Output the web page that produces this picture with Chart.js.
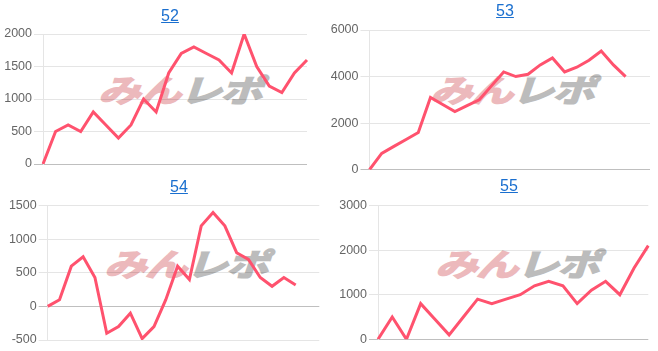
<!DOCTYPE html>
<html>
<head>
<meta charset="utf-8">
<script src="https://cdn.jsdelivr.net/npm/chart.js@4.4.1/dist/chart.umd.min.js"></script>
<style>
html, body { margin:0; padding:0; background:#fff; width:658px; height:351px; overflow:hidden; font-family: Arial, "Liberation Sans", sans-serif; }
.box { position:absolute; z-index:2; }
.ttl { position:absolute; z-index:3; font-size:16px; color:#1a6fcf; text-decoration:underline; transform:translate(-50%,-50%); white-space:nowrap; }
.wm { position:absolute; z-index:1; font: bold 31px/32px "Noto Sans CJK JP", sans-serif; white-space:nowrap;
      transform: scaleX(1.36) skewX(-14deg); transform-origin: left top; letter-spacing:-1px; }
.wm .p { color:#ecb9bc; -webkit-text-stroke: 1.6px #ecb9bc; }
.wm .g { color:#bcbcbc; -webkit-text-stroke: 1.6px #bcbcbc; }
</style>
</head>
<body>
<a class="ttl" style="left:170px;top:16px">52</a>
<a class="ttl" style="left:505px;top:11px">53</a>
<a class="ttl" style="left:179px;top:187px">54</a>
<a class="ttl" style="left:509px;top:186px">55</a>

<div class="wm" style="left:108px;top:73px"><span class="p">みん</span><span class="g">レポ</span></div>
<div class="wm" style="left:440px;top:73px"><span class="p">みん</span><span class="g">レポ</span></div>
<div class="wm" style="left:114px;top:247px"><span class="p">みん</span><span class="g">レポ</span></div>
<div class="wm" style="left:445px;top:247px"><span class="p">みん</span><span class="g">レポ</span></div>

<div class="box" style="left:0;top:20px;width:329px;height:155px"><canvas id="c52"></canvas></div>
<div class="box" style="left:329px;top:18px;width:329px;height:162px"><canvas id="c53"></canvas></div>
<div class="box" style="left:0;top:195px;width:329px;height:156px"><canvas id="c54"></canvas></div>
<div class="box" style="left:329px;top:195px;width:329px;height:156px"><canvas id="c55"></canvas></div>

<script>
// games (x categories) for each chart
const labels52 = [1,2,3,4,5,6,7,8,9,10,11,12,13,14,15,16,17,18,19,20,21,22];
const labels53 = [1,2,3,4,5,6,7,8,9,10,11,12,13,14,15,16,17,18,19,20,21,22,23,24];
const labels54 = [1,2,3,4,5,6,7,8,9,10,11,12,13,14,15,16,17,18,19,20,21,22,23,24];
const labels55 = [1,2,3,4,5,6,7,8,9,10,11,12,13,14,15,16,17,18,19,20];

// balance values
const values52 = [0,500,600,500,800,600,400,600,1000,800,1400,1700,1800,1700,1600,1400,2000,1500,1200,1100,1400,1600];
const values53 = [0,700,1000,1300,1600,3100,2800,2500,2750,3000,3600,4200,4000,4100,4500,4800,4200,4400,4700,5100,4500,4000];
const values54 = [0,100,600,740,430,-400,-300,-100,-480,-300,100,600,400,1200,1400,1200,800,700,430,300,430,320];
const values55 = [0,500,0,800,450,100,500,900,800,900,1000,1200,1300,1200,800,1100,1300,1000,1600,2100];

const lineColor = "rgb(255,82,110)";

function makeChart(id, labels, values, yMin, yMax, yStep, axisW, pad){
    let ctx = document.getElementById(id).getContext("2d");
    return new Chart(ctx, {
        type: "line",
        data: {
            labels: labels,
            datasets: [{
                data: values,
                borderColor: lineColor,
                borderWidth: 3,
                fill: false,
                tension: 0,
                pointRadius: 0
            }]
        },
        options: {
            responsive: true,
            maintainAspectRatio: false,
            animation: false,
            layout: { padding: pad },
            plugins: {
                legend: { display: false },
                title: { display: false },
                tooltip: { enabled: false }
            },
            scales: {
                x: {
                    offset: false,
                    ticks: { display: false },
                    grid: { display: false, drawTicks: false },
                    border: { display: false }
                },
                y: {
                    min: yMin,
                    max: yMax,
                    ticks: {
                        stepSize: yStep,
                        color: "#666",
                        padding: 2,
                        font: { family: "Arial, 'Liberation Sans'", size: 12.5 },
                        callback: function(value) { return String(value); }
                    },
                    grid: {
                        tickLength: 9,
                        color: function(c) {
                            return (c.tick && c.tick.value === 0) ? "rgba(0,0,0,0.25)" : "rgba(0,0,0,0.1)";
                        }
                    },
                    border: { display: true, color: "rgba(0,0,0,0.1)" },
                    afterFit: function(scale) { scale.width = axisW; }
                }
            }
        }
    });
}

makeChart("c52", labels52, values52, 0, 2000, 500, 43, {top: 14, bottom: 11, right: 22, left: 0});
makeChart("c53", labels53, values53, 0, 6000, 2000, 40.5, {top: 12, bottom: 10.3, right: 8, left: 0});
makeChart("c54", labels54, values54, -500, 1500, 500, 47.7, {top: 10.7, bottom: 11, right: 9.7, left: 0});
makeChart("c55", labels55, values55, 0, 3000, 1000, 49, {top: 10.5, bottom: 11.7, right: 9.7, left: 0});
</script>
</body>
</html>
